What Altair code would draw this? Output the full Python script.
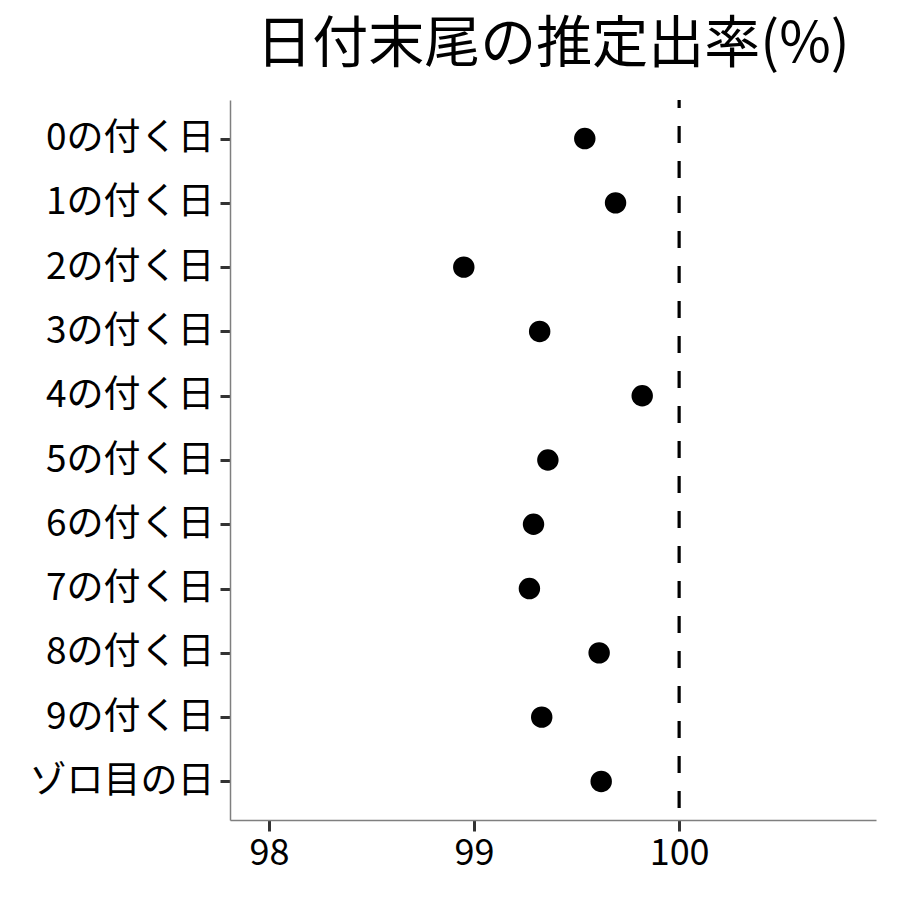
import altair as alt
import pandas as pd

categories = ["0の付く日", "1の付く日", "2の付く日", "3の付く日", "4の付く日",
              "5の付く日", "6の付く日", "7の付く日", "8の付く日", "9の付く日", "ゾロ目の日"]
rates = [99.54, 99.69, 98.95, 99.32, 99.82, 99.36, 99.29, 99.27, 99.61, 99.33, 99.62]
x_ticks = [98, 99, 100]
ref_value = [100]

df = pd.DataFrame({"cat": categories, "rate": rates})
ref = pd.DataFrame({"v": ref_value})

FONT = "Noto Sans CJK JP"

x_scale = alt.Scale(domain=[97.81, 100.96], nice=False, zero=False)

points = alt.Chart(df).mark_circle(size=460, color="black", opacity=1).encode(
    x=alt.X("rate:Q", scale=x_scale,
            axis=alt.Axis(values=x_ticks, format="d", title=None, grid=False,
                          domainColor="#7f7f7f", domainWidth=1.5,
                          tickColor="#333333", tickWidth=3, tickSize=11,
                          labelFont=FONT, labelFontSize=36, labelColor="black",
                          labelPadding=5)),
    y=alt.Y("cat:N", sort=categories,
            scale=alt.Scale(type="point", padding=0.6),
            axis=alt.Axis(title=None, grid=False,
                          domainColor="#7f7f7f", domainWidth=1.5,
                          tickColor="#333333", tickWidth=3, tickSize=10,
                          labelFont=FONT, labelFontSize=37, labelColor="black",
                          labelPadding=6, labelLimit=400)),
)

rule = alt.Chart(ref).mark_rule(color="black", strokeWidth=3.2, strokeDash=[17, 18],
                                strokeDashOffset=9).encode(
    x=alt.X("v:Q", scale=x_scale)
)

chart = alt.layer(rule, points).properties(
    width=646,
    height=720,
    padding={"left": 222, "top": 92, "right": 16, "bottom": 72},
    autosize=alt.AutoSizeParams(type="none"),
    title=alt.TitleParams("日付末尾の推定出率(%)", font=FONT, fontSize=56,
                          fontWeight="normal", color="black", anchor="middle",
                          offset=24),
).configure_view(stroke=None)

chart.save("out.html", embed_options={"renderer": "svg", "actions": False})
